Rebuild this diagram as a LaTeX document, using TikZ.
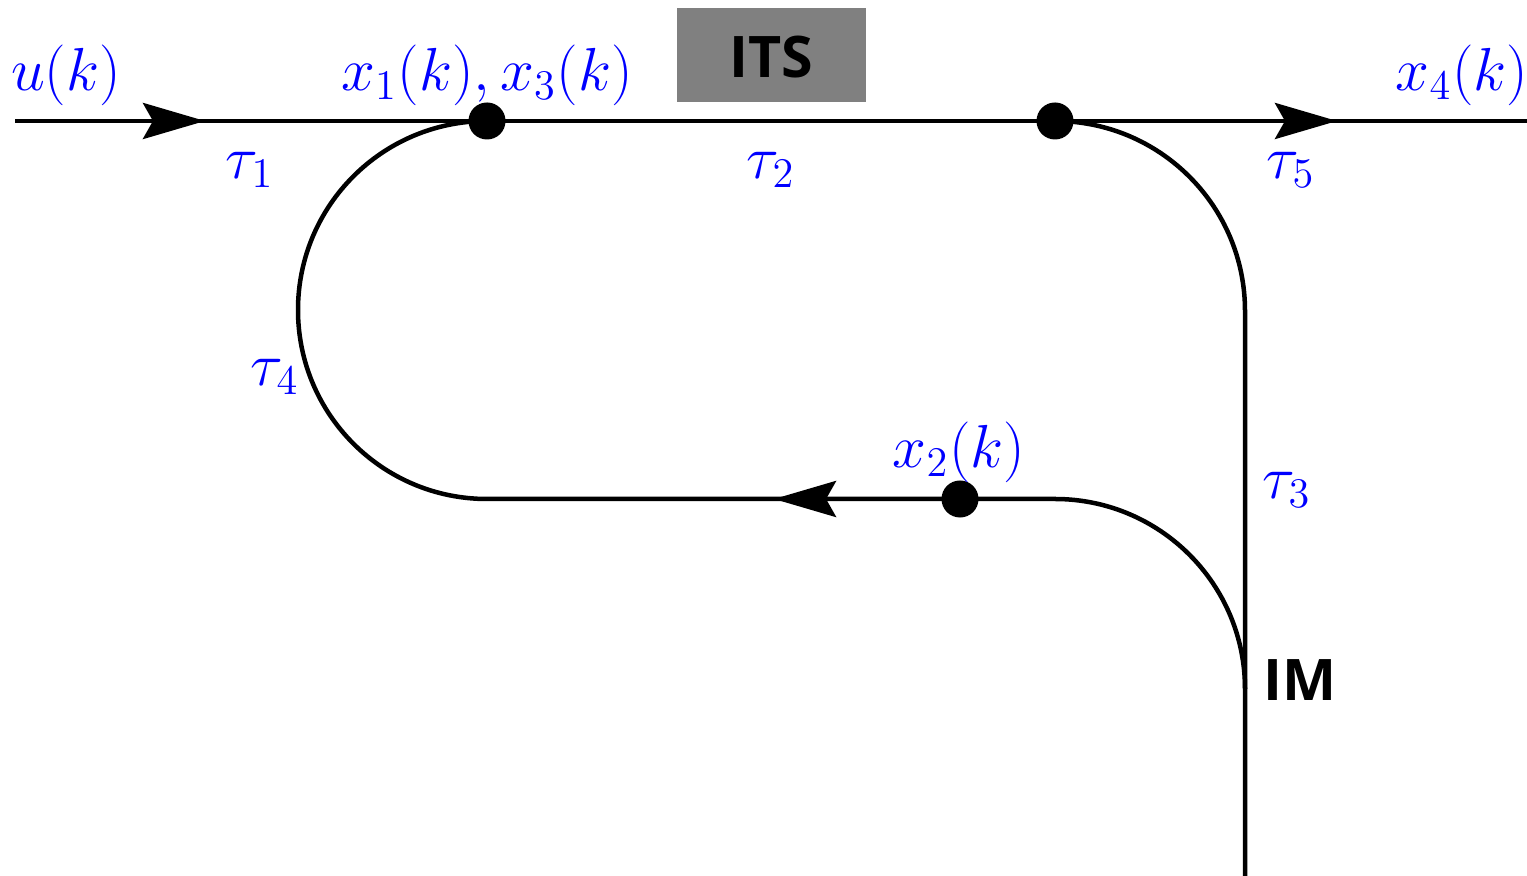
\documentclass[tikz,border=0pt]{standalone}
\usepackage{fontspec}
\newfontfamily\lblsans{Open Sans}
\usetikzlibrary{arrows.meta,backgrounds}
\definecolor{lblblue}{RGB}{0,0,255}
\definecolor{boxgray}{RGB}{128,128,128}
\begin{document}
\begin{tikzpicture}[x=0.01cm,y=0.01cm,
  road/.style={line width=0.045cm},
  arr/.style={road,-{Stealth[length=0.62cm,width=0.36cm,inset=0.1cm]}},
  dot/.style={circle,fill=black,inner sep=0pt,minimum size=0.37cm},
  lbl/.style={text=lblblue,font=\fontsize{16.6}{20}\selectfont,inner sep=0pt},
  sans/.style={font=\fontsize{16.3}{19}\selectfont\lblsans\bfseries,inner sep=0pt}]
\useasboundingbox (0,0) rectangle (1527,876);
% named points
\coordinate (start) at (15,755);
\coordinate (a1) at (205,755);
\coordinate (a2) at (1337,755);
\coordinate (finish) at (1527,755);
\coordinate (a3) at (774,377);
\coordinate (lowR) at (1055,377);
\coordinate (bottom) at (1245,0);
% ITS box
\node[fill=boxgray,minimum width=1.89cm,minimum height=0.94cm,inner sep=0pt] (its) at (771.5,821) {};
\node[sans] (itstext) at (771.5,819) {ITS};
% dots
\node[dot] (d1) at (487,755) {};
\node[dot] (d2) at (1055,755) {};
\node[dot] (d3) at (960,377) {};
\begin{scope}[on background layer]
% top road
\draw[road] (start) -- (finish);
\draw[arr] (start) -- (a1);
\draw[arr] (d2.center) -- (a2);
% left loop
\draw[road] (d1.center) arc (90:270:189) -- (lowR);
\draw[arr] (d3.center) -- (a3);
% right arcs
\draw[road] (d2.center) arc (90:0:190) -- (bottom);
\draw[road] (lowR) arc (90:0:190);
\end{scope}
% labels
\node[lbl] (lu) at (66,801) {$u(k)$};
\node[lbl] (lx13) at (487,801) {$x_1(k),x_3(k)$};
\node[lbl] (lx4) at (1462,801) {$x_4(k)$};
\node[lbl] (lx2) at (959,424) {$x_2(k)$};
\node[lbl] (t1) at (250,706) {$\tau_1$};
\node[lbl] (t2) at (771,706) {$\tau_2$};
\node[lbl] (t5) at (1291,706) {$\tau_5$};
\node[lbl] (t4) at (275,499) {$\tau_4$};
\node[lbl] (t3) at (1287,386) {$\tau_3$};
\node[sans] (im) at (1300,196) {IM};
\end{tikzpicture}
\end{document}
